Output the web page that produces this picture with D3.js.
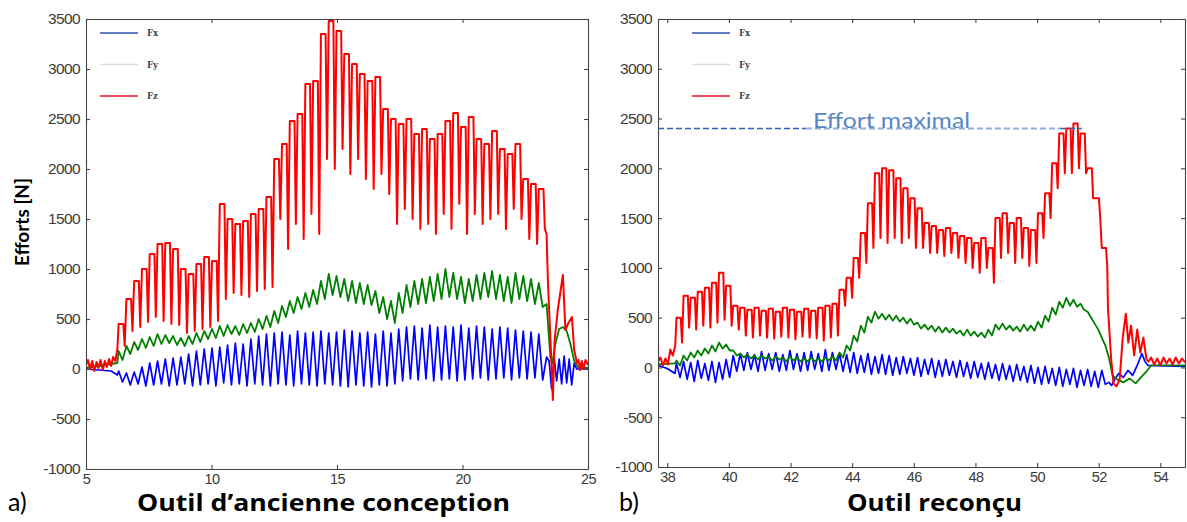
<!DOCTYPE html>
<html><head><meta charset="utf-8">
<script src="https://cdn.jsdelivr.net/npm/d3@7"></script>
<style>body{margin:0;background:#fff}</style></head>
<body>
<svg id="c" width="1187" height="522"></svg>
<script>
// ---------------- DATA ----------------
const yTicks = [-1000,-500,0,500,1000,1500,2000,2500,3000,3500];
const xTicksA = [5,10,15,20,25];
const xTicksB = [38,40,42,44,46,48,50,52,54];
const seriesNames = ["Fx","Fy","Fz"];

// Panel a) : cutting cycles start at 6.3 s, one every 0.31
const cycA = {start: 6.3, period: 0.31};
const fzA_top = [450,700,880,1000,1150,1250,1260,1200,1000,950,1050,1120,1080,1650,1500,1450,1480,1550,1600,1720,
  2100,2250,2480,2550,2850,2880,3350,3480,3380,3150,3050,2950,2880,2920,2600,2500,2450,2500,2350,2400,
  2300,2350,2480,2560,2420,2520,2300,2250,2380,2200,2150,2250,1900,1850,1800];
const fzA_dip = [230,380,420,470,520,480,450,440,360,380,400,420,480,700,760,740,720,780,800,820,
  1500,1200,1450,1300,1550,1350,2100,2000,2200,1950,2100,1900,1800,1950,1750,1450,1600,1500,1400,1450,
  1350,1550,1400,1650,1350,1550,1450,1500,1550,1400,1600,1500,1300,1250,1400];
const fyA_top = [180,230,270,300,320,350,340,330,310,330,360,380,400,430,440,430,450,460,500,530,
  580,630,680,720,760,790,880,950,930,900,880,860,840,780,720,680,760,840,880,900,
  920,950,1000,960,920,900,940,960,980,940,920,960,930,900,860];
const fyA_bot = [90,150,190,210,230,250,260,240,230,250,270,300,310,330,350,340,360,370,400,420,
  460,520,560,600,620,650,700,740,720,680,660,650,640,560,500,460,560,620,650,660,
  680,700,720,700,660,680,700,720,700,680,660,700,680,650,620];
const fxA_top = [-20,-40,-30,20,60,80,100,110,120,150,180,200,210,220,240,260,250,300,330,350,
  360,370,340,380,360,370,380,360,370,390,380,360,370,350,380,360,400,420,430,410,
  440,420,430,420,440,410,430,420,400,420,410,390,380,370,350];
const fxA_bot = [-130,-160,-150,-170,-160,-150,-170,-160,-150,-170,-160,-150,-170,-140,-160,-150,-170,-150,-160,-170,
  -150,-160,-170,-150,-160,-170,-150,-160,-170,-180,-160,-170,-180,-160,-170,-150,-120,-100,-110,-100,
  -120,-110,-100,-120,-110,-100,-90,-110,-100,-90,-110,-90,-100,-90,-110];
const fzA_head = [[5,40],[5.08,90],[5.16,0],[5.25,80],[5.33,-20],[5.42,70],[5.5,10],[5.58,90],[5.67,-10],[5.75,80],
  [5.83,20],[5.92,100],[6.0,30],[6.08,120],[6.17,80],[6.25,200]];
const fzA_tail = [[23.35,1350],[23.4,900],[23.45,600],[23.52,200],[23.6,-310],[23.67,290],[23.8,600],[24.0,940],
  [24.1,390],[24.2,450],[24.36,520],[24.45,190],[24.56,60],[24.62,90],[24.68,-10],[24.75,80],[24.82,0],[24.9,90],[25,40]];
const fyA_head = [[5,10],[6.25,60]];
const fyA_tail = [[23.35,650],[23.42,400],[23.5,120],[23.58,60],[23.7,250],[23.85,400],[24.0,420],[24.15,380],
  [24.3,250],[24.45,80],[24.6,20],[25,10]];
const fxA_head = [[5,0],[5.5,-10],[6.0,-20],[6.25,-60]];
const fxA_tail = [[23.35,120],[23.45,80],[23.55,-200],[23.65,120],[23.75,-120],[23.85,100],[23.95,-150],[24.05,130],
  [24.15,-140],[24.25,100],[24.35,-160],[24.45,60],[24.55,0],[25,0]];

// Panel b) : cycles start at 38.3 s, one every 0.23
const cycB = {start: 38.3, period: 0.23};
const fzB_top = [500,720,700,760,800,850,950,820,620,600,580,600,570,590,560,600,580,560,590,570,
  600,620,640,780,900,1100,1350,1650,1950,2000,1980,1900,1800,1700,1600,1450,1420,1380,1400,1350,
  1320,1300,1250,1300,1200,1500,1550,1450,1500,1400,1380,1550,1750,2050,2350,2400,2450,2350,2000,1700,1200];
const fzB_dip = [250,400,380,420,400,450,480,420,380,320,300,320,300,290,310,300,280,310,300,290,
  270,300,320,620,700,900,1050,1200,1300,1250,1300,1250,1300,1200,1200,1150,1150,1120,1150,1100,
  1050,1000,950,1000,850,1100,1150,1050,1100,1020,1050,1300,1500,1800,1950,1950,2000,1950,1700,1500,1000];
const fyB_top = [70,120,150,170,190,220,250,230,170,140,130,120,120,110,110,100,110,100,90,100,
  90,100,110,150,220,320,420,510,560,540,530,520,500,490,450,430,420,410,400,390,
  370,380,360,350,380,430,440,420,410,430,420,460,520,600,660,700,680,640,560,440,300];
const fyB_bot = [20,70,100,120,140,160,190,170,120,100,90,80,90,70,80,60,70,60,60,60,
  60,70,70,100,170,260,350,450,490,480,470,460,440,430,390,380,360,350,350,340,
  320,320,310,300,320,380,380,370,360,370,370,400,460,530,600,620,610,580,500,380,220];
const fxB_top = [40,60,50,70,40,60,50,80,120,140,150,130,160,140,150,130,170,140,150,160,
  140,180,150,140,130,150,120,140,110,130,120,100,110,90,100,80,90,70,80,60,
  70,50,60,40,50,30,40,20,30,10,20,0,10,-10,0,-20,-10,-30,-20,-40,-30];
const fxB_bot = [-100,-120,-140,-110,-130,-150,-120,-100,-40,-30,-20,-40,-30,-20,-40,-30,-20,-40,-30,-20,
  -40,-30,-20,-40,-50,-60,-50,-70,-60,-70,-80,-70,-60,-80,-90,-70,-100,-90,-80,-100,
  -90,-110,-100,-120,-110,-130,-120,-140,-130,-150,-160,-170,-160,-180,-190,-170,-200,-180,-190,-200,-170];
const fzB_head = [[37.7,60],[37.78,100],[37.86,20],[37.94,90],[38.02,30],[38.1,180],[38.18,120],[38.26,220]];
const fzB_tail = [[52.3,600],[52.4,100],[52.48,-160],[52.58,-190],[52.68,-120],[52.78,300],[52.88,540],[52.96,250],
  [53.05,420],[53.15,120],[53.25,380],[53.35,150],[53.45,300],[53.55,80],[53.62,60],[53.7,100],[53.8,30],[53.9,90],
  [54.0,20],[54.1,100],[54.2,40],[54.3,90],[54.4,30],[54.5,100],[54.6,40],[54.7,90],[54.8,50]];
const fyB_head = [[37.7,30],[38.25,40]];
const fyB_tail = [[52.33,100],[52.45,-80],[52.6,-120],[52.8,-150],[53.0,-110],[53.2,-160],[53.4,-90],[53.55,-40],
  [53.7,20],[54.8,20]];
const fxB_head = [[37.7,450],[37.71,20],[38.0,-10],[38.25,-60]];
const fxB_tail = [[52.33,-150],[52.42,-180],[52.52,-120],[52.65,-60],[52.8,-100],[52.95,-30],[53.1,-80],[53.25,20],
  [53.4,140],[53.5,60],[53.6,20],[54.8,10]];

const effortMax = 2400;          // dashed reference level (N)
const effortMaxEnd = 51.45;      // where the dashed line stops (s)

// ---------------- DRAWING ----------------
const svg = d3.select("#c");
const COL = {Fx:"#0000ff", Fy:"#008000", Fz:"#ff0000"};
const WID = {Fx:1.7, Fy:1.8, Fz:2};

function spikes(top, dip, cyc, head, tail){
  const pts = head.slice();
  top.forEach((t,i)=>{
    const x0 = cyc.start + i*cyc.period;
    pts.push([x0, t]); pts.push([x0+0.6*cyc.period, t]); pts.push([x0+0.78*cyc.period, dip[i]]);
  });
  return pts.concat(tail);
}
function zig(top, bot, cyc, head, tail){
  const pts = head.slice();
  top.forEach((t,i)=>{
    const x0 = cyc.start + i*cyc.period;
    pts.push([x0, t]); pts.push([x0+0.5*cyc.period, bot[i]]);
  });
  return pts.concat(tail);
}

function panel(cfg){
  const x = d3.scaleLinear().domain(cfg.xDomain).range([cfg.left, cfg.right]);
  const y = d3.scaleLinear().domain([-1000,3500]).range([cfg.bottom, cfg.top]);
  const g = svg.append("g");
  const clipId = "clip"+cfg.id;
  svg.append("clipPath").attr("id",clipId).append("rect")
    .attr("x",cfg.left).attr("y",cfg.top).attr("width",cfg.right-cfg.left).attr("height",cfg.bottom-cfg.top);
  const line = d3.line().x(d=>x(d[0])).y(d=>y(d[1]));
  const plot = g.append("g").attr("clip-path",`url(#${clipId})`);
  cfg.series.forEach(s=>{
    plot.append("path").attr("d",line(s.pts)).attr("fill","none")
      .attr("stroke",COL[s.name]).attr("stroke-width",WID[s.name]).attr("stroke-linejoin","round");
  });
  // axes
  const axStyle = sel=>{
    sel.selectAll("path,line").attr("stroke","#444").attr("stroke-width",1.1);
    sel.selectAll("text").attr("fill","#3a3a3a").attr("font-family","'Liberation Sans', Arial, sans-serif");
  };
  g.append("g").attr("transform",`translate(${cfg.left},0)`)
    .call(d3.axisLeft(y).tickValues(yTicks).tickSize(-4).tickSizeOuter(0).tickPadding(6).tickFormat(d=>String(d)))
    .call(axStyle).call(s=>s.selectAll("text").attr("font-size",15.5).attr("letter-spacing",-0.6));
  g.append("g").attr("transform",`translate(0,${cfg.bottom})`)
    .call(d3.axisBottom(x).tickValues(cfg.xTicks).tickSize(-4).tickSizeOuter(0).tickPadding(5).tickFormat(d=>String(d)))
    .call(axStyle).call(s=>s.selectAll("text").attr("font-size",14.5).attr("letter-spacing",-0.6));
  g.append("g").attr("transform",`translate(${cfg.right},0)`)
    .call(d3.axisRight(y).tickValues(yTicks).tickSize(-4).tickSizeOuter(0).tickFormat(""))
    .call(axStyle);
  g.append("g").attr("transform",`translate(0,${cfg.top})`)
    .call(d3.axisTop(x).tickValues(cfg.xTicks).tickSize(-4).tickSizeOuter(0).tickFormat(""))
    .call(axStyle);
  // legend
  const lg = g.append("g");
  const legCols = {Fx:"#3050b0", Fy:"#dcdcdc", Fz:"#e8102a"};
  seriesNames.forEach((n,i)=>{
    const ly = cfg.top + 14 + i*31.5;
    lg.append("line").attr("x1",cfg.left+cfg.legX).attr("x2",cfg.left+cfg.legX+38)
      .attr("y1",ly).attr("y2",ly).attr("stroke",legCols[n]).attr("stroke-width",1.6);
    lg.append("text").attr("x",cfg.left+cfg.legX+47).attr("y",ly+3).text(n)
      .attr("font-family","'DejaVu Serif', serif").attr("font-size",8.5).attr("font-weight","bold").attr("fill","#444");
  });
  return {x,y,g};
}

const A = panel({id:"a", xDomain:[5,25], left:86, right:588, top:19, bottom:469, xTicks:xTicksA, legX:14,
  series:[
    {name:"Fx", pts:zig(fxA_top,fxA_bot,cycA,fxA_head,fxA_tail)},
    {name:"Fy", pts:zig(fyA_top,fyA_bot,cycA,fyA_head,fyA_tail)},
    {name:"Fz", pts:spikes(fzA_top,fzA_dip,cycA,fzA_head,fzA_tail)}
  ]});
const B = panel({id:"b", xDomain:[37.7,54.8], left:658, right:1185, top:19, bottom:467, xTicks:xTicksB, legX:34,
  series:[
    {name:"Fx", pts:zig(fxB_top,fxB_bot,cycB,fxB_head,fxB_tail)},
    {name:"Fy", pts:zig(fyB_top,fyB_bot,cycB,fyB_head,fyB_tail)},
    {name:"Fz", pts:spikes(fzB_top,fzB_dip,cycB,fzB_head,fzB_tail)}
  ]});

// Effort maximal line
const ym = B.y(effortMax);
B.g.append("line").attr("x1",B.x(37.7)).attr("x2",B.x(42.5)).attr("y1",ym).attr("y2",ym)
  .attr("stroke","#2e62b8").attr("stroke-width",1.4).attr("stroke-dasharray","6,3");
B.g.append("line").attr("x1",B.x(42.5)).attr("x2",B.x(50.75)).attr("y1",ym).attr("y2",ym)
  .attr("stroke","#8eaedb").attr("stroke-width",1.8).attr("stroke-dasharray","6,3");
B.g.append("line").attr("x1",B.x(50.75)).attr("x2",B.x(effortMaxEnd)).attr("y1",ym).attr("y2",ym)
  .attr("stroke","#2e62b8").attr("stroke-width",1.4).attr("stroke-dasharray","6,3");
B.g.append("text").attr("x",813).attr("y",ym-1).text("Effort maximal")
  .attr("textLength",157).attr("lengthAdjust","spacingAndGlyphs")
  .attr("font-family","Lato, 'Open Sans', sans-serif").attr("font-size",22).attr("fill","#5b86c4");

// Labels
svg.append("text").attr("transform","translate(29,222) rotate(-90)").attr("text-anchor","middle")
  .text("Efforts [N]").attr("font-family","Lato, 'Open Sans', sans-serif").attr("font-weight","bold").attr("font-size",19);
svg.append("text").attr("x",8).attr("y",511).text("a)")
  .attr("font-family","Lato, sans-serif").attr("font-size",25);
svg.append("text").attr("x",137).attr("y",511).text("Outil d’ancienne conception")
  .attr("textLength",373).attr("lengthAdjust","spacingAndGlyphs")
  .attr("font-family","'Open Sans', Lato, sans-serif").attr("font-weight","bold").attr("font-size",24);
svg.append("text").attr("x",619).attr("y",511).text("b)")
  .attr("font-family","Lato, sans-serif").attr("font-size",25);
svg.append("text").attr("x",847).attr("y",511).text("Outil reconçu")
  .attr("textLength",175).attr("lengthAdjust","spacingAndGlyphs")
  .attr("font-family","'Open Sans', Lato, sans-serif").attr("font-weight","bold").attr("font-size",24);
</script>
</body></html>
